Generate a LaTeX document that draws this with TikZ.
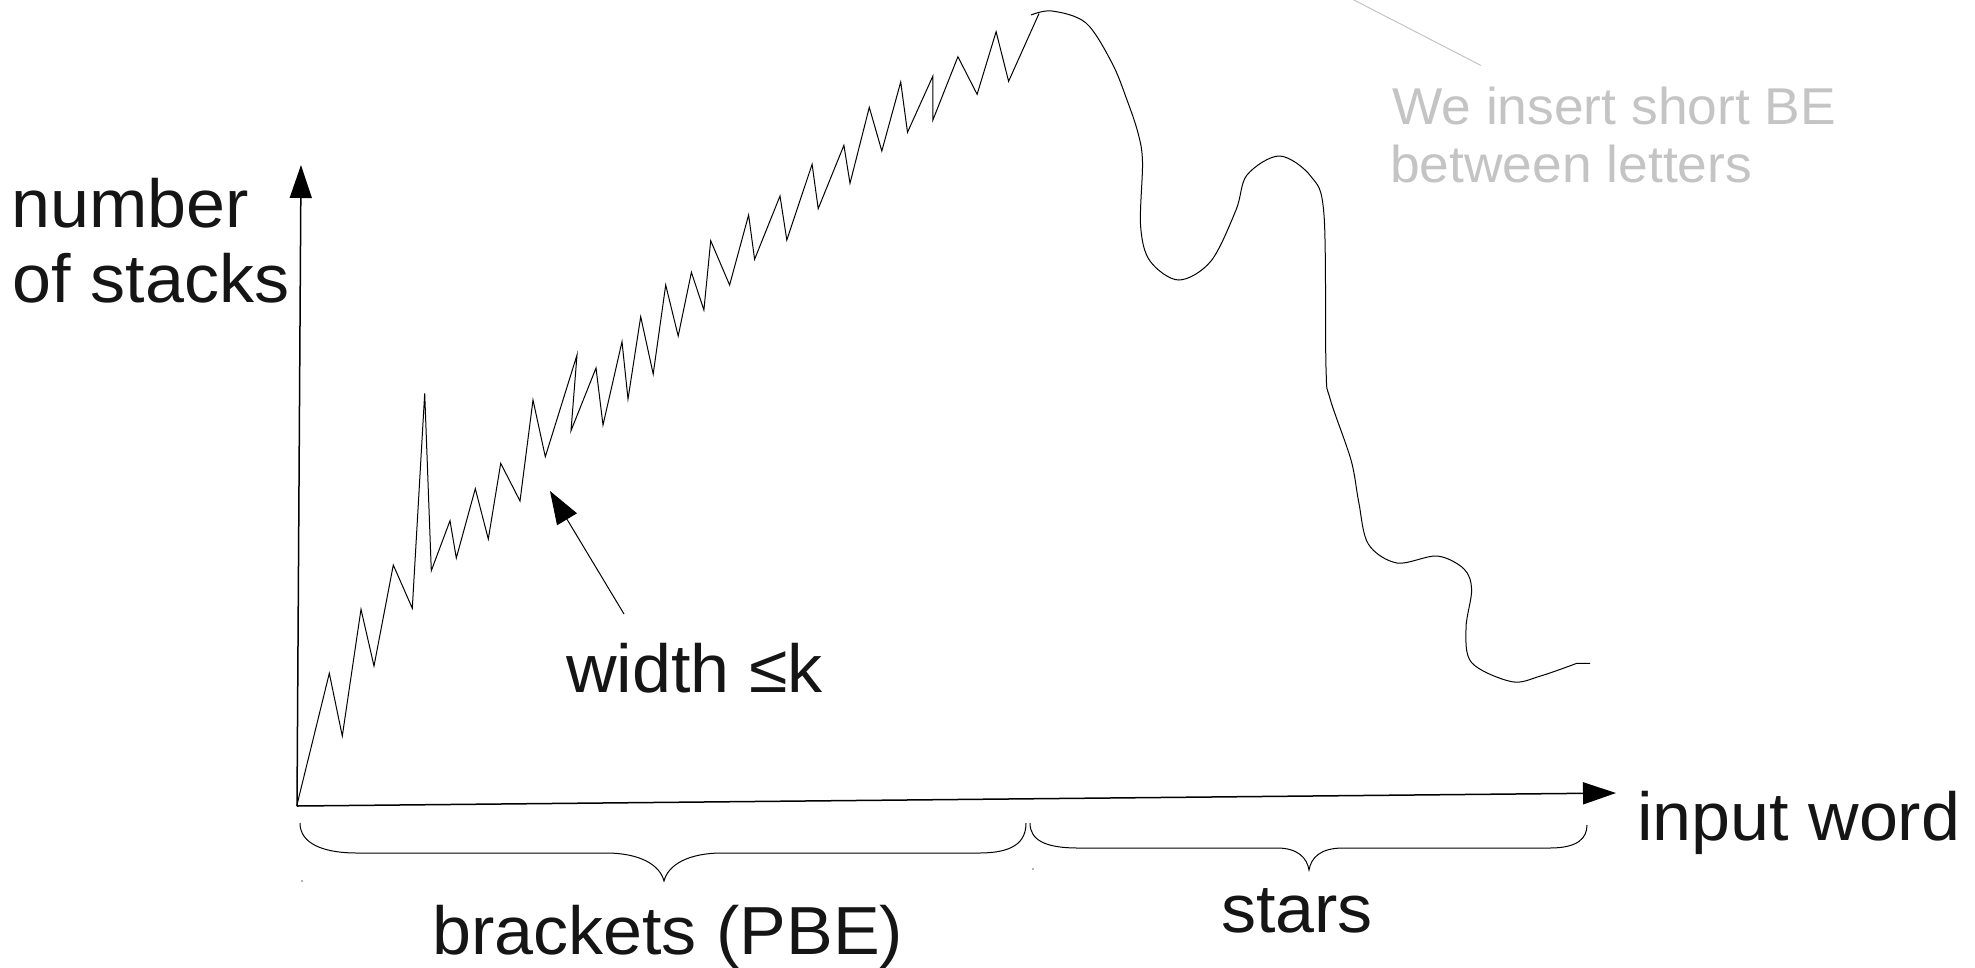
\documentclass[tikz,border=0pt]{standalone}
\usepackage{fontspec}
\setmainfont{Liberation Sans}[FakeStretch=1.03]
\usetikzlibrary{arrows.meta}
\definecolor{inkc}{HTML}{151515}
\definecolor{notegray}{HTML}{C4C4C4}
\begin{document}
\begin{tikzpicture}[x=1pt,y=-1pt,
  lbl/.style={inner sep=0pt, anchor=base west, font=\fontsize{68}{75}\selectfont, text=inkc},
  note/.style={inner sep=0pt, anchor=base west, font=\fontsize{51.8}{60}\selectfont, text=notegray},
  axisline/.style={line width=1.5pt, draw=black, -{Triangle[length=33pt,width=22pt]}},
  trace/.style={line width=1pt, draw=black, line join=miter},
  bracestyle/.style={line width=1pt, draw=black},
  pointer/.style={line width=1pt, draw=black, -{Triangle[length=33pt,width=23pt]}}
]
\useasboundingbox (0,0) rectangle (1975,967);

% axes
\coordinate (O) at (297,806);
\coordinate (ytip) at (301,165);
\coordinate (xtip) at (1616,793);
\draw[axisline] (O) -- (ytip);
\draw[axisline] (O) -- (xtip);

% zigzag (brackets part)
\draw[trace] plot coordinates {
(296.7,806) (329.3,673.3) (342.3,736) (361,609.3) (374,666) (393.3,565) (412.3,608.3)
(424.7,393.3) (431.3,570.7) (450,520.7) (456.3,558) (475.3,488.7) (488.3,539) (500.7,463.3)
(520,501) (533,400) (545.3,456.7) (577,355) (571,430.7) (596,368) (603,425) (622,341.7)
(628,399) (640.7,316.7) (653.2,374) (665.7,285) (678.2,336) (691.4,272.3) (703.9,310)
(710.7,240.7) (729.6,285) (748.6,215) (754.6,259.3) (780,196) (786.8,240) (812.1,164.3)
(818.2,208.7) (843.9,145.3) (850,183.3) (869.3,107.3) (881.8,151) (900.7,82) (907.5,132.3)
(932.9,76) (932.9,120) (957.9,56.7) (977.1,94.3) (996.1,31.7) (1008.6,81.3) (1039,13.5)};

% smooth curve (stars part)
\draw[trace] plot[smooth, tension=0.55] coordinates {
(1031,15) (1052,11) (1086,23) (1112,63) (1127,100) (1138,133) (1142.5,162)
(1140.6,226) (1150,261) (1178.8,280) (1211,261) (1236,210) (1247,175) (1279.5,156)
(1311,176.5) (1324,215) (1326,368) (1330,398.5) (1351,460) (1358.7,502) (1368.3,544)
(1397,563) (1437,556) (1464,569) (1471.6,590) (1466,628) (1471.6,662.6) (1511.8,681.7)
(1540.5,676) (1576.8,663.3)} -- (1590,663.3);

% gray note line and text
\coordinate (gA) at (1352,-1);
\coordinate (gB) at (1481,65.5);
\draw[notegray, line width=1pt] (gA) -- (gB);
\node[note] (note1) at (1392,124.5) {We insert short BE};
\node[note] (note2) at (1390,182.7) {between letters};

% axis labels
\node[lbl] (ylab1) at (11,227) {number};
\node[lbl] (ylab2) at (12.6,302) {of stacks};
\node[lbl] (xlab) at (1637,840) {input word};

% width pointer
\node[lbl] (wlab) at (566,692) {width ≤k};
\coordinate (wtail) at (624,614);
\coordinate (whead) at (550,491);
\draw[pointer] (wtail) -- (whead);

% braces
\draw[bracestyle] (300,823) .. controls (300,843) and (322,853) .. (357,853) -- (606,853)
  .. controls (640,853) and (660,865) .. (664,881)
  .. controls (668,865) and (688,853) .. (722,853) -- (979,853)
  .. controls (1012,853) and (1026,843) .. (1026,823);
\draw[bracestyle] (1030,823) .. controls (1030,840) and (1045,848) .. (1078,848) -- (1277,848)
  .. controls (1298,848) and (1307,858) .. (1309,870)
  .. controls (1311,858) and (1320,848) .. (1343,848) -- (1550,848)
  .. controls (1578,848) and (1587,838) .. (1587,825);
\fill[black!60] (302,881) circle (0.8);
\fill[black!60] (1033,869) circle (0.8);

\node[lbl] (blab) at (432,954) {brackets (PBE)};
\node[lbl] (slab) at (1221,932) {stars};
\end{tikzpicture}
\end{document}
